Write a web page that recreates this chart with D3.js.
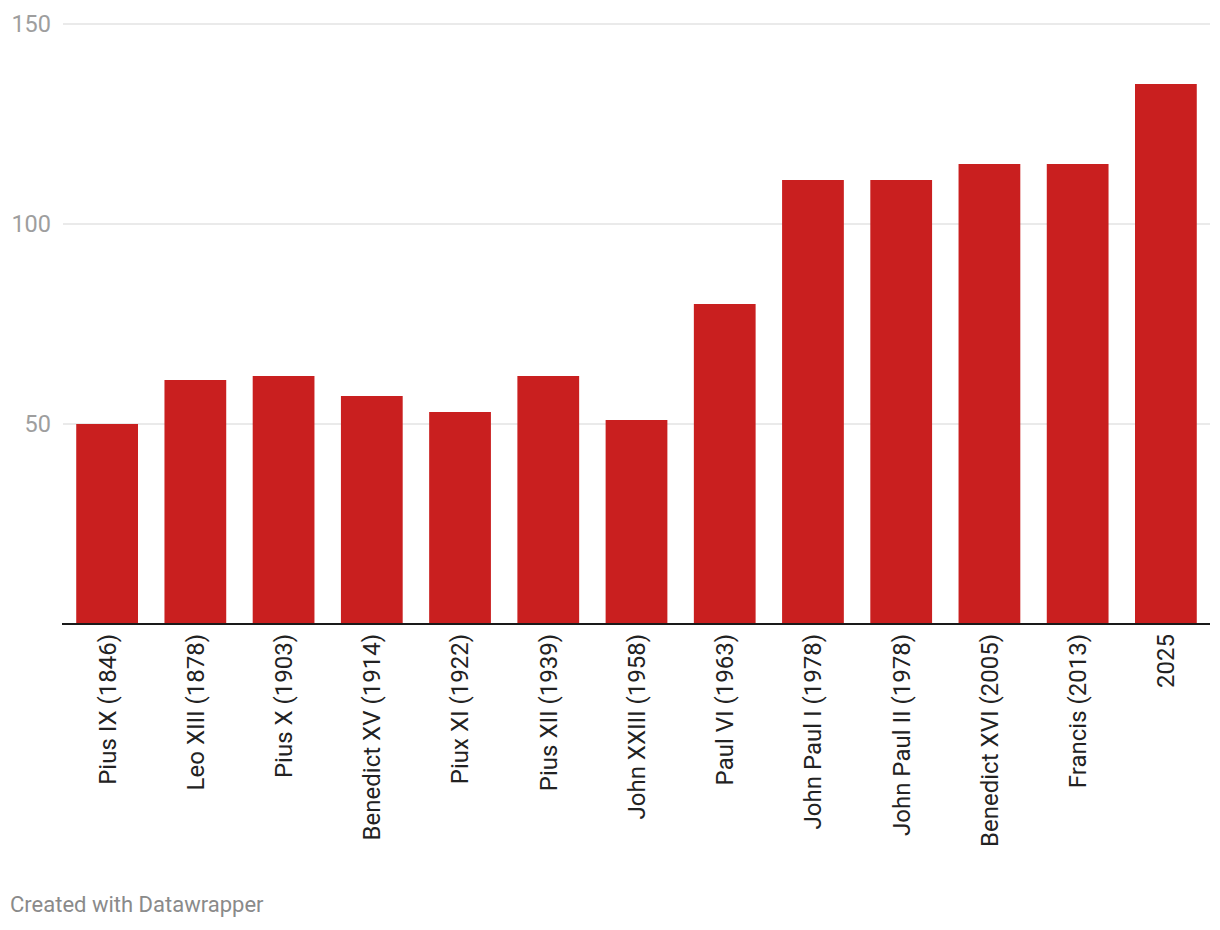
<!DOCTYPE html>
<html><head><meta charset="utf-8">
<script src="https://cdn.jsdelivr.net/npm/d3@7"></script>
<style>body{margin:0;background:#fff;font-family:Roboto,sans-serif}</style>
</head><body><svg id="c" width="1220" height="930"></svg>
<script>
const categories = ["Pius IX (1846)","Leo XIII (1878)","Pius X (1903)","Benedict XV (1914)","Piux XI (1922)","Pius XII (1939)","John XXIII (1958)","Paul VI (1963)","John Paul I (1978)","John Paul II (1978)","Benedict XVI (2005)","Francis (2013)","2025"];
const values = [50,61,62,57,53,62,51,80,111,111,115,115,135];
const yTicks = [50,100,150];

const svg = d3.select("#c");
const x = d3.scaleBand().domain(categories).range([63,1210]).paddingInner(0.3).paddingOuter(0.15);
const y = d3.scaleLinear().domain([0,150]).range([624,24]);

const grid = svg.append("g");
grid.selectAll("line").data(yTicks).join("line")
  .attr("x1",63).attr("x2",1210).attr("y1",d=>y(d)).attr("y2",d=>y(d))
  .attr("stroke","#e3e3e3").attr("stroke-width",1.5);
grid.selectAll("text").data(yTicks).join("text")
  .attr("x",51).attr("y",d=>y(d)).attr("dy","0.36em").attr("text-anchor","end")
  .attr("fill","#9e9e9e").attr("font-size",23.5).text(d=>d);

svg.append("g").selectAll("rect").data(values).join("rect")
  .attr("x",(d,i)=>x(categories[i])).attr("width",x.bandwidth())
  .attr("y",d=>y(d)).attr("height",d=>y(0)-y(d)).attr("fill","#c91f1f");

svg.append("line").attr("x1",62).attr("x2",1210).attr("y1",y(0)).attr("y2",y(0))
  .attr("stroke","#1a1a1a").attr("stroke-width",2);

svg.append("g").selectAll("text").data(categories).join("text")
  .attr("transform",d=>`translate(${x(d)+x.bandwidth()/2},634) rotate(-90)`)
  .attr("text-anchor","end").attr("dy","0.35em")
  .attr("fill","#222").attr("font-size",24).text(d=>d);

svg.append("text").attr("x",10).attr("y",912).attr("fill","#8a8a8a")
  .attr("font-size",22).text("Created with Datawrapper");
</script></body></html>
